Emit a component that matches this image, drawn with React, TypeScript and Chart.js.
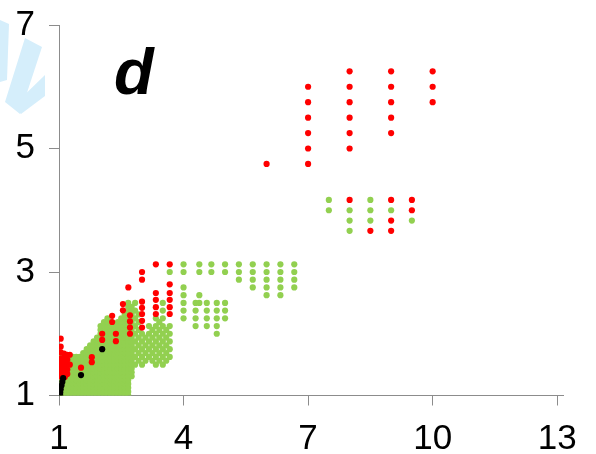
import React, { useEffect, useRef } from "react";
import { Chart, registerables } from "chart.js";

Chart.register(...registerables);

const xTicks = [1, 4, 7, 10, 13];
const yTicks = [1, 3, 5, 7];

// green (light) series, by column: [x, y values]
const greenColumns: [number, number[]][] = [
  [1.0, [1, 1.0625, 1.125, 1.1875, 1.25, 1.3125, 1.375, 1.4375, 1.5, 1.5625, 1.625]],
  [1.083, [1, 1.0625, 1.125, 1.1875, 1.25, 1.3125, 1.375, 1.4375, 1.5, 1.5625, 1.625]],
  [1.167, [1, 1.0625, 1.125, 1.1875, 1.25, 1.3125, 1.375, 1.4375, 1.5, 1.5625, 1.625]],
  [1.25, [1, 1.0625, 1.125, 1.1875, 1.25, 1.3125, 1.375, 1.4375, 1.5, 1.5625, 1.625]],
  [1.333, [1, 1.0625, 1.125, 1.1875, 1.25, 1.3125, 1.375, 1.4375, 1.5, 1.5625, 1.625]],
  [1.417, [1, 1.0625, 1.125, 1.1875, 1.25, 1.3125, 1.375, 1.4375, 1.5, 1.5625, 1.625]],
  [1.5, [1, 1.0625, 1.125, 1.1875, 1.25, 1.3125, 1.375, 1.4375, 1.5, 1.5625, 1.625]],
  [1.583, [1, 1.0625, 1.125, 1.1875, 1.25, 1.3125, 1.375, 1.4375, 1.5, 1.5625, 1.625, 1.6875]],
  [1.667, [1, 1.0625, 1.125, 1.1875, 1.25, 1.3125, 1.375, 1.4375, 1.5, 1.5625, 1.625, 1.6875, 1.75]],
  [1.75, [1, 1.0625, 1.125, 1.1875, 1.25, 1.3125, 1.375, 1.4375, 1.5, 1.5625, 1.625, 1.6875, 1.75, 1.8125]],
  [1.833, [1, 1.0625, 1.125, 1.1875, 1.25, 1.3125, 1.375, 1.4375, 1.5, 1.5625, 1.625, 1.6875, 1.75, 1.8125, 1.875]],
  [1.917, [1, 1.0625, 1.125, 1.1875, 1.25, 1.3125, 1.375, 1.4375, 1.5, 1.5625, 1.625, 1.6875, 1.75, 1.8125, 1.875, 1.9375]],
  [2.0, [1, 1.0625, 1.125, 1.1875, 1.25, 1.3125, 1.375, 1.4375, 1.5, 1.5625, 1.625, 1.6875, 1.75, 1.8125, 1.875, 1.9375, 2.0, 2.0625, 2.125]],
  [2.083, [1, 1.0625, 1.125, 1.1875, 1.25, 1.3125, 1.375, 1.4375, 1.5, 1.5625, 1.625, 1.6875, 1.75, 1.8125, 1.875, 1.9375, 2.0, 2.0625, 2.125, 2.1875]],
  [2.167, [1, 1.0625, 1.125, 1.1875, 1.25, 1.3125, 1.375, 1.4375, 1.5, 1.5625, 1.625, 1.6875, 1.75, 1.8125, 1.875, 1.9375, 2.0, 2.0625, 2.125, 2.1875, 2.25]],
  [2.25, [1, 1.0625, 1.125, 1.1875, 1.25, 1.3125, 1.375, 1.4375, 1.5, 1.5625, 1.625, 1.6875, 1.75, 1.8125, 1.875, 1.9375, 2.0, 2.0625, 2.125, 2.1875]],
  [2.333, [1, 1.0625, 1.125, 1.1875, 1.25, 1.3125, 1.375, 1.4375, 1.5, 1.5625, 1.625, 1.6875, 1.75, 1.8125, 1.875, 1.9375, 2.0, 2.0625, 2.125]],
  [2.417, [1, 1.0625, 1.125, 1.1875, 1.25, 1.3125, 1.375, 1.4375, 1.5, 1.5625, 1.625, 1.6875, 1.75, 1.8125, 1.875, 1.9375, 2.0, 2.0625, 2.125, 2.1875]],
  [2.5, [1, 1.0625, 1.125, 1.1875, 1.25, 1.3125, 1.375, 1.4375, 1.5, 1.5625, 1.625, 1.6875, 1.75, 1.8125, 1.875, 1.9375, 2.0, 2.0625, 2.125, 2.1875, 2.25]],
  [2.583, [1, 1.0625, 1.125, 1.1875, 1.25, 1.3125, 1.375, 1.4375, 1.5, 1.5625, 1.625, 1.6875, 1.75, 1.8125, 1.875, 1.9375, 2.0, 2.0625, 2.125, 2.1875, 2.25, 2.3125]],
  [2.667, [1, 1.0625, 1.125, 1.1875, 1.25, 1.3125, 1.375, 1.4375, 1.5, 1.5625, 1.625, 1.6875, 1.75, 1.8125, 1.875, 1.9375, 2.0, 2.0625, 2.125, 2.1875, 2.25, 2.3125, 2.375, 2.4375, 2.5]],
  [2.75, [1.3125, 1.375, 1.4375, 1.5, 1.5625, 1.625, 1.6875, 1.75, 1.8125, 1.875, 1.9375, 2.0, 2.0625, 2.125, 2.1875, 2.25, 2.3125, 2.375, 2.4375]],
  [2.833, [1.5, 1.625, 1.75, 1.875, 2.0, 2.125, 2.25, 2.375, 2.5]],
  [2.917, [1.5625, 1.6875, 1.8125, 1.9375, 2.0625, 2.1875, 2.3125]],
  [3.0, [1.5, 1.625, 1.75, 1.875, 2.0]],
  [3.083, [1.5625, 1.6875, 1.8125, 1.9375]],
  [3.167, [1.625, 1.75, 1.875, 2.0, 2.125]],
  [3.25, [1.5625, 1.6875, 1.8125, 1.9375, 2.0625]],
  [3.333, [1.5, 1.625, 1.75, 1.875, 2.0, 2.125, 2.25]],
  [3.417, [1.5625, 1.6875, 1.8125, 1.9375, 2.0625, 2.1875]],
  [3.5, [1.5, 1.625, 1.75, 1.875, 2.0, 2.125, 2.25, 2.375, 2.5]],
  [3.583, [1.5625, 1.6875, 1.8125, 1.9375, 2.0625]],
  [3.667, [1.625, 1.75, 1.875, 2.0, 2.125, 3.0]],
  [4.0, [2.25, 2.375, 2.5, 2.625, 2.75, 3.0, 3.125]],
  [4.29, [2.125, 2.25, 2.375, 2.5]],
  [4.38, [2.5, 2.625, 3.0, 3.125]],
  [4.56, [2.125, 2.25, 2.375, 2.5]],
  [4.67, [3.0, 3.125]],
  [4.8, [2.0, 2.125, 2.25, 2.375, 2.5]],
  [5.0, [2.25, 2.375, 2.5, 3.0, 3.125]],
  [5.333, [2.875, 3.0, 3.125]],
  [5.667, [2.75, 2.875, 3.0, 3.125]],
  [6.0, [2.625, 2.75, 2.875, 3.0, 3.125]],
  [6.333, [2.625, 2.75, 2.875, 3.0, 3.125]],
  [6.667, [2.75, 2.875, 3.0, 3.125]],
  [7.5, [4.0, 4.167]],
  [8.0, [3.667, 3.833, 4.0]],
  [8.5, [3.833, 4.0, 4.167]],
  [9.0, [4.0]],
  [9.5, [3.833]],
];

// red series, by column
const redColumns: [number, number[]][] = [
  [1.04, [1.36, 1.44, 1.52, 1.6, 1.7, 1.79, 1.92]],
  [1.06, [1.3]],
  [1.12, [1.36, 1.44, 1.52, 1.6, 1.68]],
  [1.14, [1.3]],
  [1.2, [1.35, 1.42, 1.5, 1.58, 1.66]],
  [1.26, [1.5, 1.66]],
  [1.53, [1.45]],
  [1.79, [1.54, 1.62]],
  [2.04, [1.9, 2.0]],
  [2.28, [2.19, 2.29]],
  [2.37, [1.88, 2.0]],
  [2.54, [2.38, 2.48]],
  [2.67, [2.75]],
  [2.71, [2.0, 2.1, 2.2, 2.3]],
  [3.0, [2.1, 2.21, 2.32, 2.42, 2.52, 2.875, 3.0]],
  [3.333, [2.32, 2.43, 2.55, 2.66, 3.125]],
  [3.667, [2.32, 2.43, 2.55, 2.66, 2.8, 3.125]],
  [6.0, [4.75]],
  [7.0, [4.75, 5.0, 5.25, 5.5, 5.75, 6.0]],
  [8.0, [4.167, 5.0, 5.25, 5.5, 5.75, 6.0, 6.25]],
  [8.5, [3.667]],
  [9.0, [3.667, 3.833, 4.167, 5.25, 5.5, 5.75, 6.0, 6.25]],
  [9.5, [4.0, 4.167]],
  [10.0, [5.75, 6.0, 6.25]],
];

// black series
const blackX = [1.03, 1.03, 1.04, 1.06, 1.08, 1.1, 1.53, 2.04];
const blackY = [1.0, 1.05, 1.1, 1.16, 1.22, 1.28, 1.33, 1.75];

const toPoints = (cols: [number, number[]][]) =>
  cols.flatMap(([x, ys]) => ys.map((y) => ({ x, y })));

const AXIS = "#8c8c8c";
const FONT = "'Liberation Sans', Arial, sans-serif";
const R = 3.1;

const decorPlugin = {
  id: "decor",
  beforeDraw(chart: any) {
    const ctx = chart.ctx;
    ctx.save();
    ctx.fillStyle = "#d5eefb";
    const polys = [
      [[0, 20], [9, 24], [7, 80], [0, 82]],
      [[25, 38], [42, 47], [20, 114], [5, 102]],
      [[13, 106], [45, 75], [45, 96], [21, 114]],
    ];
    for (const p of polys) {
      ctx.beginPath();
      ctx.moveTo(p[0][0], p[0][1]);
      for (let i = 1; i < p.length; i++) ctx.lineTo(p[i][0], p[i][1]);
      ctx.closePath();
      ctx.fill();
    }
    ctx.restore();
  },
  afterDraw(chart: any) {
    const ctx = chart.ctx;
    ctx.save();
    ctx.fillStyle = "#000";
    ctx.font = `italic bold 65px ${FONT}`;
    ctx.textBaseline = "alphabetic";
    ctx.textAlign = "left";
    ctx.fillText("d", 114, 94);
    ctx.restore();
  },
};

export default function App() {
  const ref = useRef<HTMLCanvasElement>(null);
  useEffect(() => {
    if (!ref.current) return;
    const chart = new Chart(ref.current, {
      type: "scatter",
      data: {
        datasets: [
          {
            data: blackX.map((x, i) => ({ x, y: blackY[i] })),
            backgroundColor: "#000000",
            pointRadius: R,
            pointBorderWidth: 0,
            borderWidth: 0,
          },
          {
            data: toPoints(redColumns),
            backgroundColor: "#ff0000",
            pointRadius: R,
            pointBorderWidth: 0,
            borderWidth: 0,
          },
          {
            data: toPoints(greenColumns),
            backgroundColor: "#92d050",
            pointRadius: R,
            pointBorderWidth: 0,
            borderWidth: 0,
          },
        ],
      },
      options: {
        animation: false,
        responsive: false,
        events: [],
        layout: { padding: { left: 0, top: 25, right: 33, bottom: 0 } },
        plugins: { legend: { display: false }, tooltip: { enabled: false } },
        scales: {
          x: {
            type: "linear",
            min: 1,
            max: 13.14,
            afterBuildTicks: (s: any) => {
              s.ticks = xTicks.map((v) => ({ value: v }));
            },
            afterFit: (s: any) => {
              s.height = 58.5;
              s.paddingLeft = 0;
              s.paddingRight = 0;
              s.paddingTop = 0;
              s.paddingBottom = 0;
            },
            border: { display: true, color: AXIS, width: 1 },
            grid: {
              display: true,
              drawOnChartArea: false,
              drawTicks: true,
              tickLength: 10,
              color: AXIS,
              lineWidth: 1,
            },
            ticks: {
              color: "#000",
              font: { family: FONT, size: 35 },
              padding: 13,
              maxRotation: 0,
              autoSkip: false,
            },
          },
          y: {
            type: "linear",
            min: 1,
            max: 7,
            afterBuildTicks: (s: any) => {
              s.ticks = yTicks.map((v) => ({ value: v }));
            },
            afterFit: (s: any) => {
              s.width = 59;
              s.paddingLeft = 0;
              s.paddingRight = 0;
              s.paddingTop = 0;
              s.paddingBottom = 0;
            },
            border: { display: true, color: AXIS, width: 1 },
            grid: {
              display: true,
              drawOnChartArea: false,
              drawTicks: true,
              tickLength: 10,
              color: AXIS,
              lineWidth: 1,
            },
            ticks: {
              color: "#000",
              font: { family: FONT, size: 35 },
              padding: 14,
              autoSkip: false,
            },
          },
        },
      },
      plugins: [decorPlugin],
    });
    return () => chart.destroy();
  }, []);
  return (
    <div style={{ position: "absolute", left: 0, top: 0, width: 596, height: 454, background: "#fff" }}>
      <canvas ref={ref} width={596} height={454} style={{ display: "block", width: 596, height: 454 }} />
    </div>
  );
}
